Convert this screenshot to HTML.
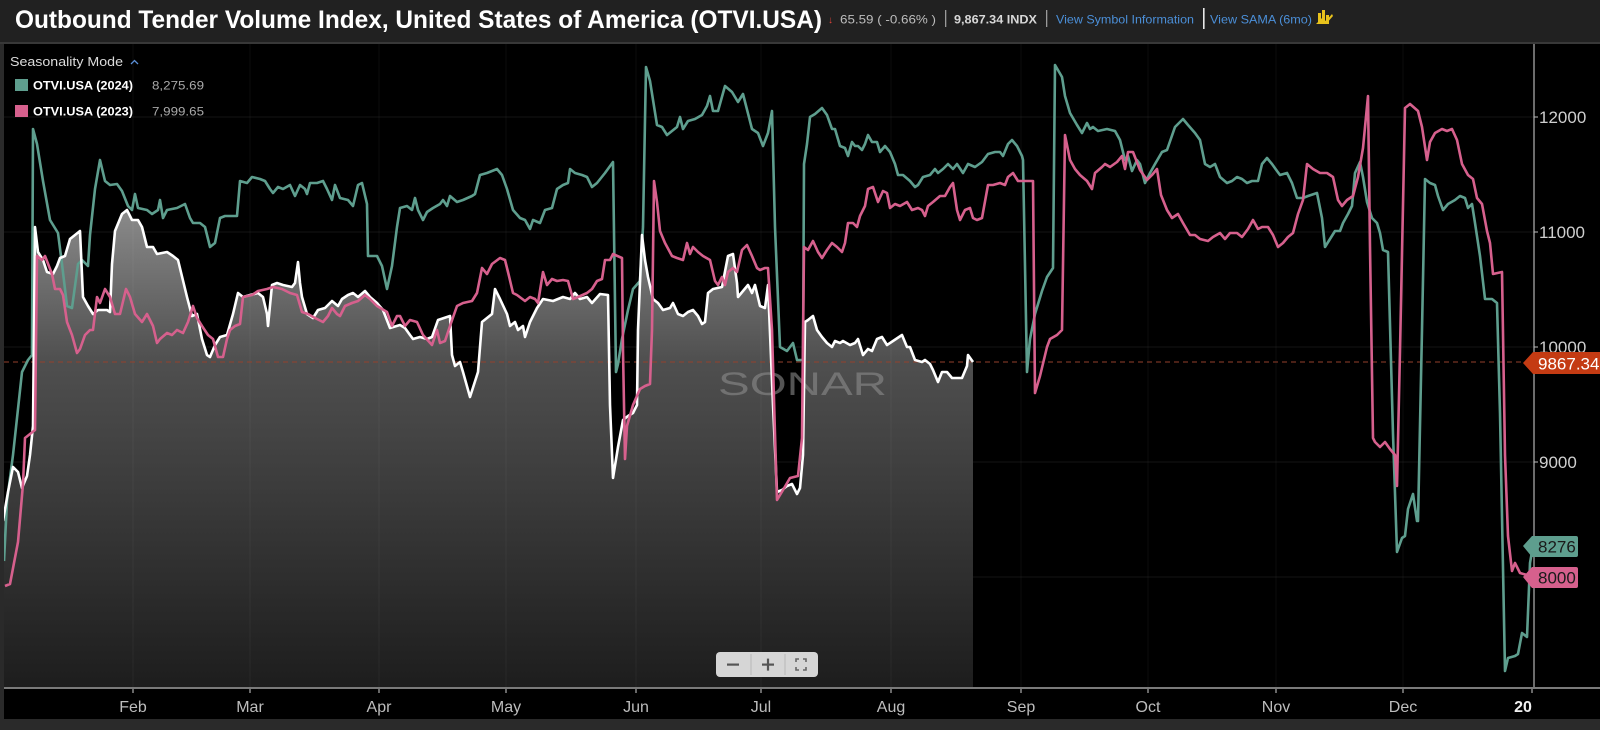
<!DOCTYPE html>
<html>
<head>
<meta charset="utf-8">
<style>
html,body{margin:0;padding:0;background:#000;}
body{width:1600px;height:730px;overflow:hidden;}
svg{display:block;}
text{font-family:"Liberation Sans",sans-serif;}
</style>
</head>
<body>
<svg width="1600" height="730" viewBox="0 0 1600 730" xmlns="http://www.w3.org/2000/svg">
<defs>
<linearGradient id="fillg" x1="0" y1="200" x2="0" y2="688" gradientUnits="userSpaceOnUse">
<stop offset="0" stop-color="#8e8e8e"/>
<stop offset="0.33" stop-color="#4f4f4f"/>
<stop offset="1" stop-color="#1d1d1d"/>
</linearGradient>
<clipPath id="plot"><rect x="4" y="44" width="1530" height="644"/></clipPath>
</defs>

<!-- outer frame -->
<rect x="0" y="0" width="1600" height="730" fill="#2a2a2a"/>
<rect x="4" y="44" width="1596" height="675" fill="#000"/>

<!-- header -->
<rect x="0" y="0" width="1600" height="42" fill="#212121"/>
<rect x="0" y="42" width="1600" height="2" fill="#383838"/>
<text x="15" y="28" font-size="25" font-weight="bold" fill="#ffffff" textLength="807" lengthAdjust="spacingAndGlyphs">Outbound Tender Volume Index, United States of America (OTVI.USA)</text>
<text x="828" y="23" font-size="10" fill="#e0443a">&#8595;</text>
<text x="840" y="23.5" font-size="12" fill="#bdbdbd" textLength="96" lengthAdjust="spacingAndGlyphs">65.59 ( -0.66% )</text>
<rect x="945" y="10" width="1.3" height="17" fill="#9a9a9a"/>
<text x="954" y="23.5" font-size="12" font-weight="bold" fill="#d8d8d8" textLength="83" lengthAdjust="spacingAndGlyphs">9,867.34 INDX</text>
<rect x="1046" y="10" width="1.3" height="17" fill="#9a9a9a"/>
<text x="1056" y="23.5" font-size="12" fill="#4b8fd8" textLength="138" lengthAdjust="spacingAndGlyphs">View Symbol Information</text>
<rect x="1203" y="8" width="1.6" height="21" fill="#e8e8e8"/>
<text x="1210" y="23.5" font-size="12" fill="#4b8fd8" textLength="102" lengthAdjust="spacingAndGlyphs">View SAMA (6mo)</text>
<g fill="#e8c21c">
<rect x="1318" y="13" width="3" height="11"/>
<rect x="1322" y="10" width="3" height="14"/>
<rect x="1326" y="15" width="3" height="9"/>
<polygon points="1316,24 1322,18 1326,21 1332,14 1333,16 1326,24"/>
</g>

<!-- grid -->
<g stroke="#131313" stroke-width="1">
<line x1="4" y1="117" x2="1534" y2="117"/>
<line x1="4" y1="232" x2="1534" y2="232"/>
<line x1="4" y1="347" x2="1534" y2="347"/>
<line x1="4" y1="462" x2="1534" y2="462"/>
<line x1="4" y1="577" x2="1534" y2="577"/>
</g>

<g clip-path="url(#plot)">
<!-- white series fill -->
<polygon fill="url(#fillg)" points="3,688 3,521 8,492 13,467 18,472 22,488 27,476 30,455 33,426 35,227 38,252 43,260 47,272 53,274 57,266 60,258 65,256 70,239 75,235 80,231 83,297 88,306 93,314 98,310 107,310 110,312 112,264 115,231 122,214 127,210 132,220 138,220 142,227 147,247 153,247 157,254 167,252 173,256 178,260 187,297 192,316 197,314 202,339 207,355 210,357 215,345 220,337 227,335 233,314 238,293 243,297 250,295 258,293 263,297 267,314 268,326 272,285 277,283 283,285 292,287 295,283 298,262 300,283 302,297 307,314 313,318 318,310 325,308 332,301 338,306 342,299 348,295 353,293 358,297 365,291 370,297 377,303 383,310 390,328 400,325 405,328 410,335 413,339 420,337 427,339 432,337 438,320 450,316 452,355 455,366 460,362 463,372 470,397 478,372 482,322 487,318 492,314 495,289 500,299 507,314 510,326 515,322 518,330 523,326 525,337 530,322 537,308 543,299 553,301 563,297 570,299 575,293 580,299 587,297 592,303 600,294 608,295 610,405 613,478 618,447 623,420 628,416 633,413 637,405 638,330 642,235 645,260 648,277 653,299 658,303 663,310 670,308 673,303 678,314 683,316 688,312 693,310 698,316 702,324 705,322 708,293 713,289 722,287 728,256 733,254 737,283 738,297 743,291 748,285 752,293 755,285 760,306 765,308 768,285 773,405 777,492 782,490 787,486 792,484 797,494 800,488 803,455 805,322 808,320 813,316 817,330 822,337 827,343 832,347 835,341 840,343 843,341 850,345 855,343 858,339 863,355 868,349 872,351 877,339 882,337 887,345 893,341 902,335 907,347 910,347 915,360 922,362 925,360 930,364 933,370 938,382 942,372 947,372 952,378 957,378 962,378 967,366 968,355 973,362 973,688"/>

<!-- vertical month grid -->
<g stroke="#ffffff" stroke-opacity="0.045" stroke-width="1">
<line x1="133" y1="44" x2="133" y2="688"/>
<line x1="250" y1="44" x2="250" y2="688"/>
<line x1="379" y1="44" x2="379" y2="688"/>
<line x1="506" y1="44" x2="506" y2="688"/>
<line x1="636" y1="44" x2="636" y2="688"/>
<line x1="761" y1="44" x2="761" y2="688"/>
<line x1="891" y1="44" x2="891" y2="688"/>
<line x1="1021" y1="44" x2="1021" y2="688"/>
<line x1="1148" y1="44" x2="1148" y2="688"/>
<line x1="1276" y1="44" x2="1276" y2="688"/>
<line x1="1403" y1="44" x2="1403" y2="688"/>
</g>

<!-- watermark -->
<text x="718" y="395" font-size="32" fill="#8c8c8c" fill-opacity="0.6" textLength="169" lengthAdjust="spacingAndGlyphs">SONAR</text>

<!-- current price dashed line -->
<line x1="4" y1="362" x2="1523" y2="362" stroke="#93412c" stroke-width="1" stroke-dasharray="5,4"/>

<!-- green 2024 -->
<polyline fill="none" stroke="#5e9e8e" stroke-width="2.6" stroke-linejoin="round" points="4,561 7,501 13,455 22,372 28,360 32,355 33,129 37,144 43,181 50,220 58,233 62,264 67,306 72,308 78,264 82,260 88,266 90,235 95,189 100,160 105,181 110,185 117,184 122,191 128,206 132,210 135,194 138,208 147,210 152,214 158,210 160,200 163,218 167,210 177,208 185,204 190,218 193,223 200,223 205,227 210,247 215,243 220,218 225,216 237,216 240,181 247,183 252,177 260,179 265,181 270,189 273,193 278,187 283,189 290,185 295,196 300,185 305,189 307,194 310,183 317,183 323,181 327,189 332,200 335,185 340,198 348,200 353,206 358,185 362,183 367,204 368,256 377,256 382,266 387,289 392,266 397,227 400,208 407,206 412,210 415,198 418,210 423,220 427,212 433,208 440,204 443,200 447,206 450,196 457,202 463,200 472,196 475,194 480,175 487,173 492,171 497,169 502,175 507,189 513,210 520,218 525,220 530,229 533,220 540,223 545,210 552,208 557,189 563,185 568,183 570,169 575,173 582,175 587,177 592,187 597,183 605,173 613,162 616,372 618,364 622,339 628,310 633,289 640,281 643,227 646,67 650,81 657,125 662,127 667,135 672,131 677,127 680,117 683,129 688,121 695,119 702,115 707,106 710,96 713,111 718,111 725,86 732,92 738,102 743,94 752,129 758,133 763,146 768,133 772,111 775,227 780,347 787,351 793,343 797,360 803,360 804,164 807,144 810,117 815,114 822,108 827,115 832,129 835,129 840,146 845,148 848,156 852,142 855,146 858,146 862,150 865,144 868,135 872,142 877,142 880,152 885,146 890,152 895,164 898,175 903,175 910,181 915,187 918,185 923,177 930,175 935,169 938,173 943,169 948,164 953,169 957,164 963,173 968,164 975,167 982,162 988,154 995,152 1000,152 1003,156 1008,144 1012,140 1017,146 1022,156 1023,160 1027,372 1030,339 1035,314 1042,291 1047,277 1053,268 1055,65 1062,77 1065,96 1070,113 1077,125 1082,133 1087,123 1090,129 1093,127 1098,131 1107,129 1115,131 1120,140 1125,160 1128,156 1132,171 1137,160 1140,164 1145,183 1150,173 1155,164 1162,152 1167,150 1175,127 1183,119 1188,125 1195,133 1200,140 1205,164 1210,167 1215,164 1220,177 1227,183 1232,181 1237,177 1242,179 1247,183 1252,181 1258,181 1262,164 1267,158 1272,164 1277,171 1280,175 1287,173 1292,183 1297,198 1303,198 1308,196 1317,193 1322,218 1325,247 1330,239 1335,231 1340,231 1343,223 1348,214 1352,206 1355,173 1360,162 1363,177 1367,202 1372,218 1377,223 1380,233 1383,250 1388,252 1393,434 1397,552 1402,538 1405,536 1408,509 1413,494 1417,521 1418,521 1422,330 1425,179 1430,183 1435,185 1438,196 1443,210 1448,204 1455,200 1460,196 1465,198 1468,208 1472,204 1475,223 1480,256 1485,299 1492,299 1497,303 1500,413 1505,671 1508,658 1515,656 1518,654 1522,633 1527,637 1530,563 1533,546"/>

<!-- white 2025 -->
<polyline fill="none" stroke="#ffffff" stroke-width="2.6" stroke-linejoin="round" points="3,521 8,492 13,467 18,472 22,488 27,476 30,455 33,426 35,227 38,252 43,260 47,272 53,274 57,266 60,258 65,256 70,239 75,235 80,231 83,297 88,306 93,314 98,310 107,310 110,312 112,264 115,231 122,214 127,210 132,220 138,220 142,227 147,247 153,247 157,254 167,252 173,256 178,260 187,297 192,316 197,314 202,339 207,355 210,357 215,345 220,337 227,335 233,314 238,293 243,297 250,295 258,293 263,297 267,314 268,326 272,285 277,283 283,285 292,287 295,283 298,262 300,283 302,297 307,314 313,318 318,310 325,308 332,301 338,306 342,299 348,295 353,293 358,297 365,291 370,297 377,303 383,310 390,328 400,325 405,328 410,335 413,339 420,337 427,339 432,337 438,320 450,316 452,355 455,366 460,362 463,372 470,397 478,372 482,322 487,318 492,314 495,289 500,299 507,314 510,326 515,322 518,330 523,326 525,337 530,322 537,308 543,299 553,301 563,297 570,299 575,293 580,299 587,297 592,303 600,294 608,295 610,405 613,478 618,447 623,420 628,416 633,413 637,405 638,330 642,235 645,260 648,277 653,299 658,303 663,310 670,308 673,303 678,314 683,316 688,312 693,310 698,316 702,324 705,322 708,293 713,289 722,287 728,256 733,254 737,283 738,297 743,291 748,285 752,293 755,285 760,306 765,308 768,285 773,405 777,492 782,490 787,486 792,484 797,494 800,488 803,455 805,322 808,320 813,316 817,330 822,337 827,343 832,347 835,341 840,343 843,341 850,345 855,343 858,339 863,355 868,349 872,351 877,339 882,337 887,345 893,341 902,335 907,347 910,347 915,360 922,362 925,360 930,364 933,370 938,382 942,372 947,372 952,378 957,378 962,378 967,366 968,355 973,362"/>

<!-- pink 2023 -->
<polyline fill="none" stroke="#d6608d" stroke-width="2.6" stroke-linejoin="round" points="5,586 10,584 18,542 23,484 25,438 30,434 35,430 37,256 42,260 45,256 52,274 55,289 60,289 63,295 67,322 72,335 77,353 80,349 85,335 90,330 93,330 97,297 100,303 105,289 110,297 115,314 120,314 126,289 130,297 135,314 142,322 147,314 153,326 157,343 160,339 167,333 172,335 177,330 183,333 188,322 193,306 197,318 202,326 208,335 213,339 218,357 223,357 227,339 230,330 235,326 240,324 243,297 252,295 258,291 267,289 273,287 282,289 290,293 297,295 302,312 308,314 315,318 323,322 328,316 332,308 337,314 340,316 345,306 352,303 358,301 365,295 370,299 377,306 387,312 392,326 397,316 400,316 405,326 410,320 417,322 423,335 432,345 437,330 440,343 445,341 450,326 457,306 463,303 472,301 477,293 482,268 487,274 492,264 500,258 505,260 508,272 513,293 517,295 525,301 530,297 535,299 538,303 543,272 547,285 552,279 557,281 563,280 568,281 573,299 578,297 587,293 592,289 597,281 602,279 605,260 610,260 613,254 622,258 623,351 625,459 627,426 633,405 640,389 645,386 650,384 652,330 654,181 657,202 660,231 665,243 672,256 677,258 683,260 687,243 690,254 693,247 698,252 703,256 710,260 715,281 718,285 722,277 725,285 728,272 733,268 737,272 742,250 747,245 752,256 757,268 760,270 765,268 768,268 772,330 775,434 777,500 783,490 790,478 798,476 802,438 804,247 808,250 813,241 818,252 822,258 827,250 832,243 837,247 842,252 845,243 848,223 853,223 857,227 860,216 865,206 868,189 873,187 878,202 883,191 887,193 890,208 895,204 900,206 907,202 912,210 918,208 922,210 925,216 928,206 933,202 940,196 945,196 950,187 953,183 957,210 960,220 965,210 970,208 973,218 977,220 982,218 988,185 993,185 1000,183 1005,185 1008,177 1013,173 1018,181 1022,181 1033,181 1035,393 1040,376 1047,347 1050,339 1057,335 1062,330 1065,135 1070,160 1075,169 1080,175 1087,181 1092,189 1095,173 1102,167 1105,164 1110,167 1117,162 1122,156 1125,169 1128,152 1133,152 1140,170 1147,180 1152,175 1157,169 1161,195 1167,210 1172,218 1178,214 1183,223 1190,235 1195,235 1200,239 1208,241 1213,237 1220,233 1225,239 1230,233 1237,233 1242,237 1248,229 1253,220 1258,229 1262,227 1268,227 1273,235 1278,247 1283,243 1288,237 1293,233 1298,214 1303,200 1307,164 1313,169 1320,173 1327,173 1333,177 1338,200 1342,206 1347,200 1353,196 1358,177 1363,148 1368,96 1370,247 1373,438 1375,442 1380,447 1385,442 1390,449 1395,455 1397,486 1400,351 1405,108 1410,104 1418,111 1422,127 1427,160 1430,142 1435,133 1442,129 1447,131 1452,129 1457,140 1462,164 1468,175 1473,179 1477,198 1482,204 1487,231 1490,243 1493,274 1502,272 1505,455 1508,536 1512,571 1515,563 1520,573 1527,575 1533,577"/>
</g>

<!-- legend -->
<text x="10" y="66" font-size="12.5" fill="#dcdcdc" textLength="113" lengthAdjust="spacingAndGlyphs">Seasonality Mode</text>
<polyline points="131,64 134.5,60.5 138,64" fill="none" stroke="#5b8fd6" stroke-width="1.3"/>
<rect x="15" y="79" width="13" height="12" fill="#5e9e8e"/>
<text x="33" y="89.5" font-size="12" font-weight="bold" fill="#ffffff" textLength="100" lengthAdjust="spacingAndGlyphs">OTVI.USA (2024)</text>
<text x="152" y="89.5" font-size="12" fill="#a8a8a8" textLength="52" lengthAdjust="spacingAndGlyphs">8,275.69</text>
<rect x="15" y="105" width="13" height="12" fill="#d6608d"/>
<text x="33" y="115.5" font-size="12" font-weight="bold" fill="#ffffff" textLength="100" lengthAdjust="spacingAndGlyphs">OTVI.USA (2023)</text>
<text x="152" y="115.5" font-size="12" fill="#a8a8a8" textLength="52" lengthAdjust="spacingAndGlyphs">7,999.65</text>

<!-- right axis -->
<line x1="1534" y1="44" x2="1534" y2="689" stroke="#d8d8d8" stroke-width="1"/>
<g stroke="#bbbbbb" stroke-width="1">
<line x1="1534" y1="117" x2="1538" y2="117"/>
<line x1="1534" y1="232" x2="1538" y2="232"/>
<line x1="1534" y1="347" x2="1538" y2="347"/>
<line x1="1534" y1="462" x2="1538" y2="462"/>
</g>
<g font-size="17" fill="#cfcfcf">
<text x="1539" y="123">12000</text>
<text x="1539" y="238">11000</text>
<text x="1539" y="353">10000</text>
<text x="1539" y="468">9000</text>
</g>

<!-- price tags -->
<polygon points="1523,363 1533,352 1600,352 1600,374 1533,374" fill="#c43b13"/>
<text x="1538" y="369.5" font-size="17" fill="#ffffff">9867.34</text>
<path d="M1523,546 L1532,536 L1576,536 Q1578,536 1578,538 L1578,555 Q1578,557 1576,557 L1532,557 Z" fill="#5e9e8e"/>
<text x="1538" y="552.5" font-size="17" fill="#1a1a1a">8276</text>
<path d="M1523,577 L1532,567 L1576,567 Q1578,567 1578,569 L1578,586 Q1578,588 1576,588 L1532,588 Z" fill="#d6608d"/>
<text x="1538" y="583.5" font-size="17" fill="#1a1a1a">8000</text>

<!-- bottom axis -->
<rect x="4" y="687" width="1596" height="2" fill="#7a7a7a"/>
<g stroke="#d0d0d0" stroke-width="1">
<line x1="133" y1="689" x2="133" y2="693"/>
<line x1="250" y1="689" x2="250" y2="693"/>
<line x1="379" y1="689" x2="379" y2="693"/>
<line x1="506" y1="689" x2="506" y2="693"/>
<line x1="636" y1="689" x2="636" y2="693"/>
<line x1="761" y1="689" x2="761" y2="693"/>
<line x1="891" y1="689" x2="891" y2="693"/>
<line x1="1021" y1="689" x2="1021" y2="693"/>
<line x1="1148" y1="689" x2="1148" y2="693"/>
<line x1="1276" y1="689" x2="1276" y2="693"/>
<line x1="1403" y1="689" x2="1403" y2="693"/>
<line x1="1532" y1="689" x2="1532" y2="693"/>
</g>
<g font-size="16" fill="#bdbdbd" text-anchor="middle">
<text x="133" y="712">Feb</text>
<text x="250" y="712">Mar</text>
<text x="379" y="712">Apr</text>
<text x="506" y="712">May</text>
<text x="636" y="712">Jun</text>
<text x="761" y="712">Jul</text>
<text x="891" y="712">Aug</text>
<text x="1021" y="712">Sep</text>
<text x="1148" y="712">Oct</text>
<text x="1276" y="712">Nov</text>
<text x="1403" y="712">Dec</text>
<text x="1523" y="712" font-weight="bold" fill="#f0f0f0">20</text>
</g>

<!-- zoom controls -->
<rect x="716" y="652" width="102" height="25" rx="4" fill="#d6d6d6"/>
<line x1="751" y1="654" x2="751" y2="675" stroke="#b8b8b8" stroke-width="1"/>
<line x1="785" y1="654" x2="785" y2="675" stroke="#b8b8b8" stroke-width="1"/>
<rect x="727" y="663.5" width="12" height="2.2" fill="#555"/>
<rect x="762" y="663.5" width="12" height="2.2" fill="#555"/>
<rect x="766.9" y="658.6" width="2.2" height="12" fill="#555"/>
<g fill="none" stroke="#666" stroke-width="1.6">
<polyline points="796,662 796,659 799,659"/>
<polyline points="803,659 806,659 806,662"/>
<polyline points="806,667 806,670 803,670"/>
<polyline points="799,670 796,670 796,667"/>
</g>
</svg>
</body>
</html>
